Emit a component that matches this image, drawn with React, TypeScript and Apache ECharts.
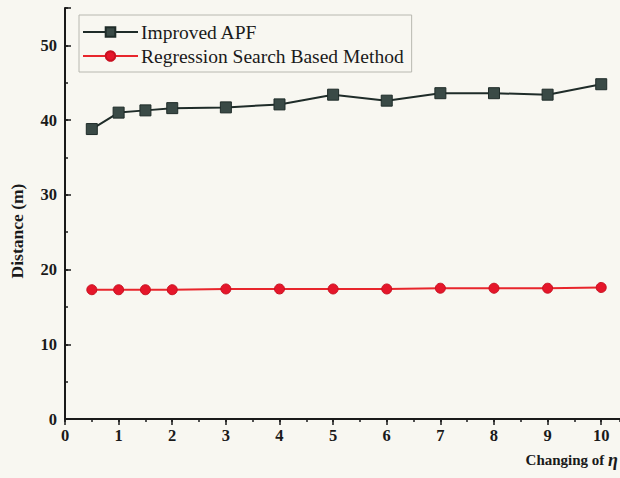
import React, { useEffect, useRef } from "react";
import * as echarts from "echarts";

const etaValues = [0.5, 1, 1.5, 2, 3, 4, 5, 6, 7, 8, 9, 10];
const improvedAPF = [38.8, 41.0, 41.3, 41.6, 41.7, 42.1, 43.4, 42.6, 43.6, 43.6, 43.4, 44.8];
const regressionSearch = [17.3, 17.3, 17.3, 17.3, 17.4, 17.4, 17.4, 17.4, 17.5, 17.5, 17.5, 17.6];
const seriesNames = ["Improved APF", "Regression Search Based Method"];
const xTickLabels = ["0", "1", "2", "3", "4", "5", "6", "7", "8", "9", "10"];
const yTickLabels = ["0", "10", "20", "30", "40", "50"];

const SERIF = "'Liberation Serif', 'DejaVu Serif', serif";

export default function App() {
  const ref = useRef<HTMLDivElement>(null);
  useEffect(() => {
    document.body.style.margin = "0";
    if (!ref.current) return;
    const chart = echarts.init(ref.current, undefined, { renderer: "svg" });
    const labelStyle = {
      fontFamily: SERIF,
      fontWeight: "bold" as const,
      fontSize: 16.5,
      color: "#1a1a1a",
    };
    chart.setOption({
      animation: false,
      backgroundColor: "#f8f7f1",
      grid: { left: 65, right: 0, top: 8, bottom: 59, containLabel: false, outerBoundsMode: "none" },
      legend: {
        orient: "vertical",
        left: 79,
        top: 15,
        data: seriesNames,
        itemWidth: 55,
        itemHeight: 12,
        itemGap: 4,
        padding: [7, 8, 6, 3],
        borderColor: "#b8b8b0",
        borderWidth: 1,
        backgroundColor: "#f8f7f1",
        textStyle: { fontFamily: SERIF, fontSize: 19.5, color: "#1a1a1a", padding: [0, 0, 0, -2] },
      },
      xAxis: [
        {
          type: "value",
          min: 0,
          max: 10.35,
          interval: 1,
          axisLine: { show: true, lineStyle: { color: "#1a1a1a", width: 2 } },
          axisTick: { show: true, inside: false, length: 6, lineStyle: { color: "#1a1a1a", width: 1.5 } },
          axisLabel: {
            ...labelStyle,
            margin: 8,
            showMaxLabel: false,
            formatter: (v: number) => {
              const i = xTickLabels.indexOf(String(v));
              return i >= 0 ? xTickLabels[i] : "";
            },
          },
          splitLine: { show: false },
          name: "Changing of {i|η}",
          nameLocation: "end",
          nameGap: -2,
          nameTextStyle: {
            fontFamily: SERIF,
            fontWeight: "bold",
            fontSize: 15,
            color: "#1a1a1a",
            align: "right",
            verticalAlign: "top",
            padding: [32, 0, 0, 0],
            rich: {
              i: {
                fontFamily: SERIF,
                fontStyle: "italic",
                fontSize: 18,
                color: "#1a1a1a",
              },
            },
          },
        },
        {
          type: "value",
          min: 0,
          max: 10.35,
          interval: 0.5,
          position: "bottom",
          axisLine: { show: false },
          axisTick: { show: true, inside: false, length: 3, lineStyle: { color: "#1a1a1a", width: 1.5 } },
          axisLabel: { show: false },
          splitLine: { show: false },
        },
      ],
      yAxis: [
        {
          type: "value",
          min: 0,
          max: 55,
          interval: 10,
          axisLine: { show: true, lineStyle: { color: "#1a1a1a", width: 2 } },
          axisTick: { show: true, inside: true, length: 6, lineStyle: { color: "#1a1a1a", width: 1.5 } },
          axisLabel: {
            ...labelStyle,
            margin: 8,
            formatter: (v: number) => {
              const i = yTickLabels.indexOf(String(v));
              return i >= 0 ? yTickLabels[i] : "";
            },
          },
          splitLine: { show: false },
        },
        {
          type: "value",
          min: 0,
          max: 55,
          interval: 5,
          position: "left",
          axisLine: { show: false },
          axisTick: { show: true, inside: true, length: 3, lineStyle: { color: "#1a1a1a", width: 1.5 } },
          axisLabel: { show: false },
          splitLine: { show: false },
        },
      ],
      graphic: [
        {
          type: "text",
          x: 17,
          y: 231,
          rotation: Math.PI / 2,
          style: {
            text: "Distance (m)",
            fontFamily: SERIF,
            fontWeight: "bold",
            fontSize: 17.5,
            fill: "#1a1a1a",
            align: "center",
            verticalAlign: "middle",
          },
        },
      ],
      series: [
        {
          name: seriesNames[0],
          type: "line",
          xAxisIndex: 0,
          yAxisIndex: 0,
          data: etaValues.map((x, i) => [x, improvedAPF[i]]),
          symbol: "rect",
          symbolSize: 11,
          lineStyle: { color: "#1f2c29", width: 2 },
          itemStyle: { color: "#3a4a46", borderColor: "#1f2c29", borderWidth: 1 },
        },
        {
          name: seriesNames[1],
          type: "line",
          xAxisIndex: 0,
          yAxisIndex: 0,
          data: etaValues.map((x, i) => [x, regressionSearch[i]]),
          symbol: "circle",
          symbolSize: 10,
          lineStyle: { color: "#e8262c", width: 2 },
          itemStyle: { color: "#e5162a", borderColor: "#c81020", borderWidth: 1 },
        },
      ],
    });
    return () => chart.dispose();
  }, []);
  return <div ref={ref} style={{ width: 620, height: 478 }} />;
}
